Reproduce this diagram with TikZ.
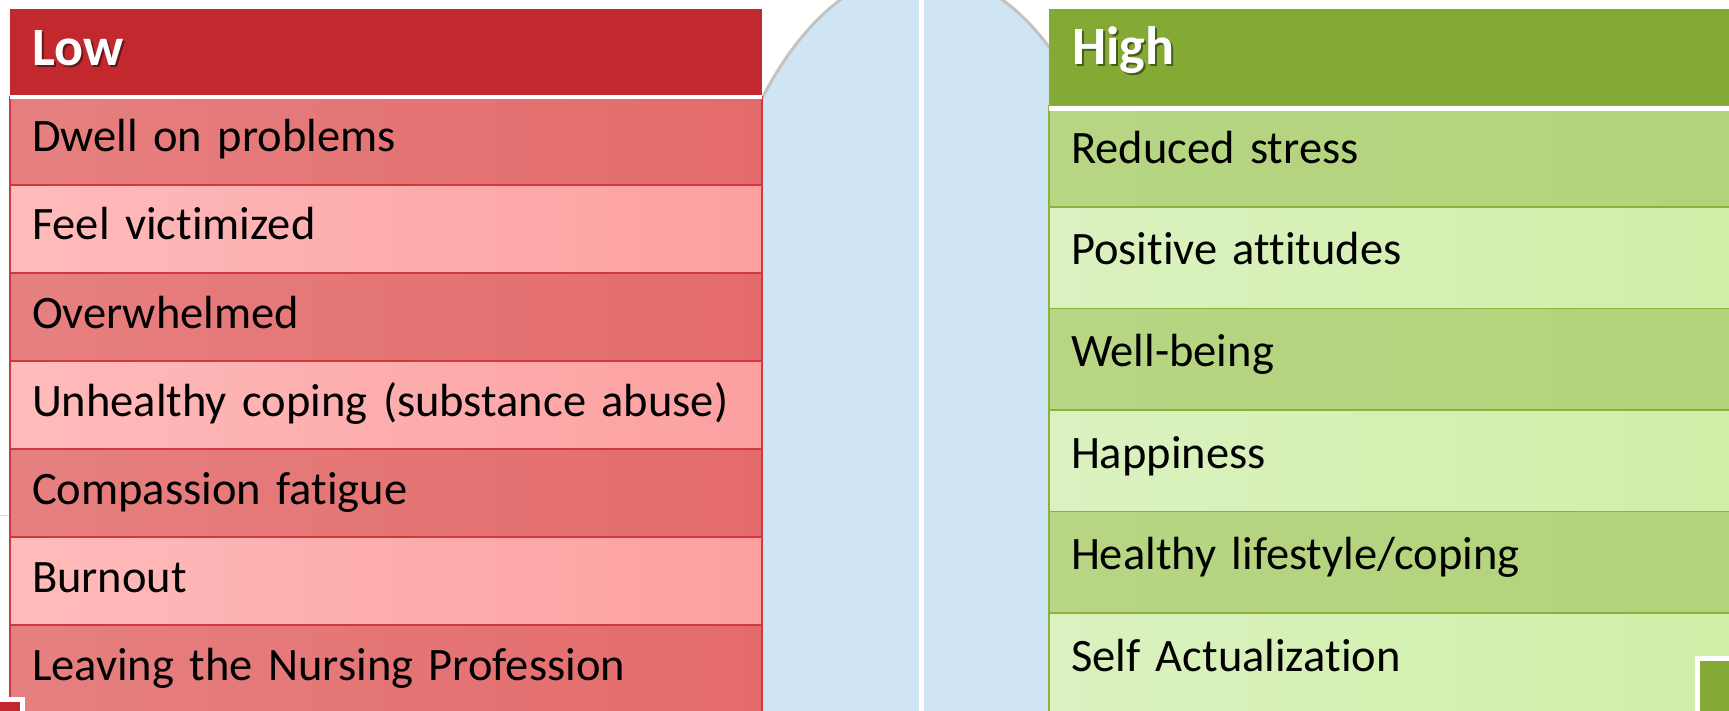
\documentclass[tikz,border=0pt]{standalone}
\usepackage{fontspec}
\setmainfont{Carlito}[Ligatures=NoCommon]
\usetikzlibrary{positioning}

\definecolor{lowhead}{HTML}{C1292E}
\definecolor{lowline}{HTML}{D0393D}
\definecolor{lowdarkL}{HTML}{E68080}
\definecolor{lowdarkR}{HTML}{E46B6B}
\definecolor{lowlightL}{HTML}{FFBBBB}
\definecolor{lowlightR}{HTML}{FCA0A0}
\definecolor{highhead}{HTML}{84A934}
\definecolor{highline}{HTML}{8AB23C}
\definecolor{highdarkL}{HTML}{B7D583}
\definecolor{highdarkR}{HTML}{B3D37A}
\definecolor{highlightL}{HTML}{DBF1C0}
\definecolor{highlightR}{HTML}{D0EFA6}
\definecolor{sky}{HTML}{CFE5F4}
\definecolor{archline}{HTML}{C3C3C3}

\newcommand\cellfont{\fontsize{46.5}{50}\selectfont}
\newcommand\headfont{\fontsize{54}{58}\selectfont\bfseries}

\tikzset{
  cell/.style={rectangle, anchor=north west, inner ysep=0pt, outer sep=0pt,
    align=left, line width=1.3pt, font=\cellfont},
  lowcell/.style={cell, inner xsep=22pt, text width=708pt,
    text height=55pt, text depth=33pt, draw=lowline},
  highcell/.style={cell, inner xsep=22pt, text width=650pt,
    text height=58pt, text depth=43.5pt, draw=highline},
  lowdark/.style={left color=lowdarkL, right color=lowdarkR},
  lowlight/.style={left color=lowlightL, right color=lowlightR},
  highdark/.style={left color=highdarkL, right color=highdarkR},
  highlight/.style={left color=highlightL, right color=highlightR},
  headbar/.style={rectangle, anchor=north west, inner sep=0pt, outer sep=0pt},
  headtext/.style={anchor=base west, inner sep=0pt, font=\headfont, text=white},
  headshadow/.style={headtext, text=black, opacity=0.45}
}

\begin{document}
\begin{tikzpicture}[x=1pt, y=-1pt]
        \useasboundingbox (0,0) rectangle (1729,711);
        \fill[white] (0,0) rectangle (1729,711);
        \clip (0,0) rectangle (1729,711);
        % blue arch between the tables
        \filldraw[fill=sky, draw=archline, line width=3pt]
          (699.5,760) -- (699.5,390)
          arc[start angle=180, end angle=0, x radius=222pt, y radius=419pt]
          -- (1143.5,760) -- cycle;
        \draw[white, line width=5pt] (921.5,0) -- (921.5,711);
        \draw[black!15] (0,515) -- (10,515);
        % left table
        \node[headbar, fill=lowhead, minimum width=752pt, minimum height=86pt]
          (low) at (10,9) {};
        \node[headshadow] (lowshade) at (34,68) {Low};
        \node[headtext] (lowtitle) at (32,66) {Low};
        \foreach \txt [count=\i] in {Dwell on problems, Feel victimized,
            Overwhelmed, Unhealthy coping (substance abuse),
            Compassion fatigue, Burnout, Leaving the Nursing Profession}{
          \ifodd\i \def\tone{lowdark}\else \def\tone{lowlight}\fi
          \node[lowcell, \tone] (low\i) at (10,{97+88*(\i-1)}) {\txt};
        }
        \fill[white] (10,95) rectangle (762,99);
        % right table
        \node[headbar, fill=highhead, minimum width=700pt, minimum height=97pt]
          (high) at (1049,9) {};
        \node[headshadow] (highshade) at (1074,67) {High};
        \node[headtext] (hightitle) at (1072,65) {High};
        \foreach \txt [count=\i] in {Reduced stress, Positive attitudes,
            Well-being, Happiness, Healthy lifestyle/coping,
            Self Actualization}{
          \ifodd\i \def\tone{highdark}\else \def\tone{highlight}\fi
          \node[highcell, \tone] (high\i) at (1049,{105.5+101.5*(\i-1)}) {\txt};
        }
        \fill[white] (1049,106) rectangle (1740,111);
        % corner marks
        \fill[white] (0,697) rectangle (25,711);
        \fill[lowhead] (0,702) rectangle (20,711);
        \fill[white] (1695,656) rectangle (1729,711);
        \fill[highhead] (1700,661) rectangle (1729,711);
      \end{tikzpicture}
\end{document}
